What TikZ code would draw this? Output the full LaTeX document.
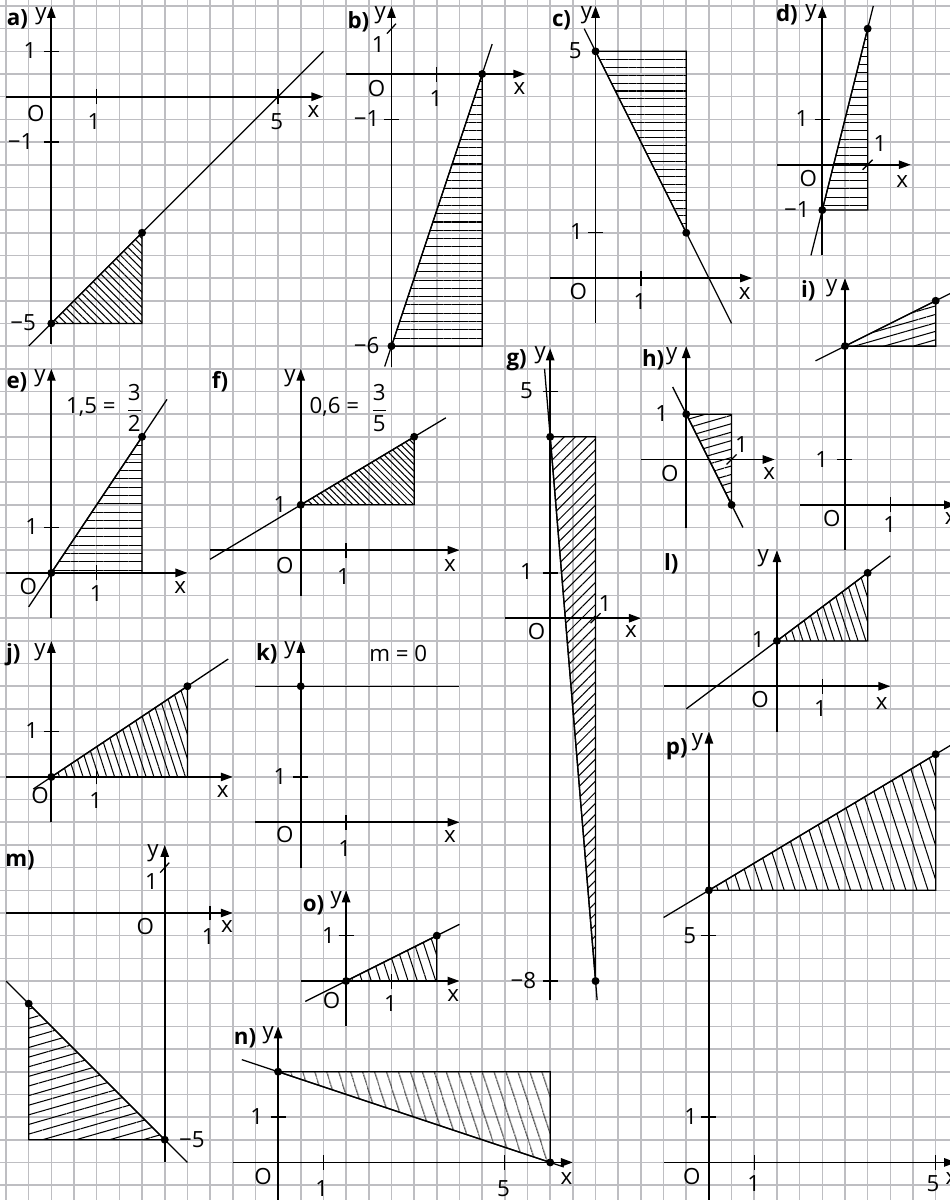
\documentclass[tikz,border=0pt]{standalone}
\usepackage{fontspec}
\setmainfont{Open Sans}
\usepackage{amsmath}
\usetikzlibrary{arrows.meta,patterns.meta}
\definecolor{gridgray}{RGB}{190,190,194}
\tikzset{
	gridline/.style={gridgray, line width=1pt},
	axis/.style={line width=1.1pt, -{Triangle[length=7.5pt,width=5.2pt]}},
	graph/.style={line width=0.8pt},
	tick/.style={line width=0.8pt},
	dot/.style={circle, fill=black, inner sep=0pt, minimum size=5pt},
	lbl/.style={inner sep=0pt, font=\fontsize{14}{16}\selectfont},
	plbl/.style={inner sep=0pt, font=\fontsize{14}{16}\selectfont\bfseries},
	hatch/.style 2 args={pattern={Lines[angle=#1,distance=#2,line width=0.65pt]}},
}
\begin{document}
\begin{tikzpicture}
		\useasboundingbox (-0.1323,-26.329) rectangle (20.794,0.1323);
		\fill[white] (-0.1323,-26.329) rectangle (20.794,0.1323);
		\draw[gridline] (-0.5,-27) grid[step=0.5] (21,0.5);
		\begin{scope}[shift={(1,-2)}]
			\draw[hatch={-45}{3.4pt}, graph] (0,-5) -- (2,-3) -- (2,-5) -- cycle;
			\draw[axis] (-1,0) -- (6,0);
			\draw[axis] (0,-5.45) -- (0,2);
			\draw[graph] (-0.5,-5.5) -- (6,1);
			\foreach \t in {1,5} \draw[tick] (\t,-0.165) -- (\t,0.165);
			\foreach \t in {1,-1} \draw[tick] (-0.165,\t) -- (0.165,\t);
			\node[dot] (a-p) at (0,-5) {};
			\node[dot] (a-q) at (2,-3) {};
			\node[plbl] (a-name) at (-0.75,1.7) {a)};
			\node[lbl] (a-y) at (-0.23,1.77) {y};
			\node[lbl] (a-x) at (5.78,-0.33) {x};
			\node[lbl] (a-O) at (-0.34,-0.37) {O};
			\node[lbl] (a-x1) at (0.94,-0.55) {1};
			\node[lbl] (a-x5) at (4.97,-0.55) {5};
			\node[lbl] (a-y1) at (-0.47,1.01) {1};
			\node[lbl] (a-ym1) at (-0.68,-0.99) {−1};
			\node[lbl] (a-ym5) at (-0.62,-4.98) {−5};
		\end{scope}
		\begin{scope}[shift={(8.5,-1.5)}]
			\draw[hatch={0}{5.2pt}, graph] (0,-6) -- (2,0) -- (2,-6) -- cycle;
			\draw[axis] (-1,0) -- (2.95,0);
			\draw[axis] (0,-6.45) -- (0,1.5);
			\draw[graph] (-0.15,-6.45) -- (2.22,0.66);
			\draw[tick] (1,-0.165) -- (1,0.165);
			\draw[tick] (-0.165,-1) -- (0.165,-1);
			\draw[tick] (-0.1,0.89) -- (0.1,1.11);
			\node[dot] (b-p) at (0,-6) {};
			\node[dot] (b-q) at (2,0) {};
			\node[plbl] (b-name) at (-0.73,1.15) {b)};
			\node[lbl] (b-y) at (-0.25,1.3) {y};
			\node[lbl] (b-x) at (2.82,-0.32) {x};
			\node[lbl] (b-O) at (-0.33,-0.32) {O};
			\node[lbl] (b-x1) at (0.98,-0.54) {1};
			\node[lbl] (b-y1) at (-0.29,0.64) {1};
			\node[lbl] (b-ym1) at (-0.55,-0.98) {−1};
			\node[lbl] (b-ym6) at (-0.55,-5.98) {−6};
		\end{scope}
		\begin{scope}[shift={(13,-6)}]
			\draw[hatch={0}{4.9pt}, graph] (0,5) -- (2,5) -- (2,1) -- cycle;
			\draw[axis] (-1,0) -- (3.45,0);
			\draw[axis] (0,-1) -- (0,6);
			\draw[graph] (-0.25,5.5) -- (3,-1);
			\draw[tick] (1,-0.165) -- (1,0.165);
			\draw[tick] (-0.165,1) -- (0.165,1);
			\node[dot] (c-p) at (0,5) {};
			\node[dot] (c-q) at (2,1) {};
			\node[plbl] (c-name) at (-0.75,5.69) {c)};
			\node[lbl] (c-y) at (-0.2,5.8) {y};
			\node[lbl] (c-x) at (3.29,-0.34) {x};
			\node[lbl] (c-O) at (-0.38,-0.3) {O};
			\node[lbl] (c-x1) at (0.98,-0.52) {1};
			\node[lbl] (c-y1) at (-0.42,1.02) {1};
			\node[lbl] (c-y5) at (-0.45,5.01) {5};
		\end{scope}
		\begin{scope}[shift={(18,-3.5)}]
			\draw[hatch={0}{5.2pt}, graph] (0,-1) -- (1,3) -- (1,-1) -- cycle;
			\draw[axis] (-1,0) -- (1.95,0);
			\draw[axis] (0,-2) -- (0,3.5);
			\draw[graph] (-0.25,-2) -- (1.125,3.5);
			\draw[tick] (-0.165,1) -- (0.165,1);
			\draw[tick] (0.89,-0.11) -- (1.11,0.11);
			\node[dot] (d-p) at (0,-1) {};
			\node[dot] (d-q) at (1,3) {};
			\node[plbl] (d-name) at (-0.78,3.31) {d)};
			\node[lbl] (d-y) at (-0.25,3.35) {y};
			\node[lbl] (d-x) at (1.76,-0.37) {x};
			\node[lbl] (d-O) at (-0.31,-0.3) {O};
			\node[lbl] (d-x1) at (1.27,0.47) {1};
			\node[lbl] (d-y1) at (-0.45,1.02) {1};
			\node[lbl] (d-ym1) at (-0.56,-0.98) {−1};
		\end{scope}
		\begin{scope}[shift={(1,-12.5)}]
			\draw[hatch={0}{5.2pt}, graph] (0,0) -- (2,3) -- (2,0) -- cycle;
			\draw[axis] (-1,0) -- (3,0);
			\draw[axis] (0,-1) -- (0,4.5);
			\draw[graph] (-0.5,-0.75) -- (2.55,3.825);
			\draw[tick] (1,-0.165) -- (1,0.165);
			\draw[tick] (-0.165,1) -- (0.165,1);
			\node[dot] (e-p) at (0,0) {};
			\node[dot] (e-q) at (2,3) {};
			\node[plbl] (e-name) at (-0.76,4.21) {e)};
			\node[lbl] (e-y) at (-0.25,4.3) {y};
			\node[lbl] (e-x) at (2.84,-0.33) {x};
			\node[lbl] (e-O) at (-0.51,-0.29) {O};
			\node[lbl] (e-x1) at (0.99,-0.45) {1};
			\node[lbl] (e-y1) at (-0.43,1.02) {1};
			\node[lbl] (e-eq) at (0.87,3.66) {1,5 =};
			\node[lbl] (e-frac) at (1.83,3.63) {$\dfrac{\text{3}}{\text{2}}$};
		\end{scope}
		\begin{scope}[shift={(6.5,-12)}]
			\draw[hatch={-45}{3pt}, graph] (0,1) -- (2.5,2.5) -- (2.5,1) -- cycle;
			\draw[axis] (-2,0) -- (3.5,0);
			\draw[axis] (0,-1) -- (0,4);
			\draw[graph] (-2,-0.2) -- (3.2,2.92);
			\draw[tick] (1,-0.165) -- (1,0.165);
			\node[dot] (f-p) at (0,1) {};
			\node[dot] (f-q) at (2.5,2.5) {};
			\node[plbl] (f-name) at (-1.78,3.72) {f)};
			\node[lbl] (f-y) at (-0.24,3.8) {y};
			\node[lbl] (f-x) at (3.29,-0.33) {x};
			\node[lbl] (f-O) at (-0.35,-0.33) {O};
			\node[lbl] (f-x1) at (0.94,-0.58) {1};
			\node[lbl] (f-y1) at (-0.46,1.01) {1};
			\node[lbl] (f-eq) at (0.74,3.16) {0,6 =};
			\node[lbl] (f-frac) at (1.73,3.13) {$\dfrac{\text{3}}{\text{5}}$};
		\end{scope}
		\begin{scope}[shift={(12,-13.5)}]
			\draw[hatch={45}{4.9pt}, graph] (0,4) -- (1,4) -- (1,-8) -- cycle;
			\draw[axis] (-1,0) -- (2,0);
			\draw[axis] (0,-8.42) -- (0,5.95);
			\draw[graph] (-0.125,5.5) -- (1.035,-8.42);
			\foreach \t in {5,1,-8} \draw[tick] (-0.165,\t) -- (0.165,\t);
			\draw[tick] (0.89,-0.11) -- (1.11,0.11);
			\node[dot] (g-p) at (0,4) {};
			\node[dot] (g-q) at (1,-8) {};
			\node[plbl] (g-name) at (-0.74,5.69) {g)};
			\node[lbl] (g-y) at (-0.22,5.8) {y};
			\node[lbl] (g-x) at (1.78,-0.3) {x};
			\node[lbl] (g-O) at (-0.3,-0.3) {O};
			\node[lbl] (g-x1) at (1.21,0.33) {1};
			\node[lbl] (g-y1) at (-0.52,1.02) {1};
			\node[lbl] (g-y5) at (-0.52,5.01) {5};
			\node[lbl] (g-ym8) at (-0.59,-7.99) {−8};
		\end{scope}
		\begin{scope}[shift={(15,-10)}]
			\draw[hatch={16}{5.1pt}, graph] (0,1) -- (1,1) -- (1,-1) -- cycle;
			\draw[axis] (-1,0) -- (1.95,0);
			\draw[axis] (0,-1.5) -- (0,2.5);
			\draw[graph] (-0.3,1.6) -- (1.25,-1.5);
			\draw[tick] (0.89,-0.11) -- (1.11,0.11);
			\node[dot] (h-p) at (0,1) {};
			\node[dot] (h-q) at (1,-1) {};
			\node[plbl] (h-name) at (-0.73,2.19) {h)};
			\node[lbl] (h-y) at (-0.32,2.27) {y};
			\node[lbl] (h-x) at (1.83,-0.3) {x};
			\node[lbl] (h-O) at (-0.36,-0.3) {O};
			\node[lbl] (h-x1) at (1.22,0.32) {1};
			\node[lbl] (h-y1) at (-0.54,1.02) {1};
		\end{scope}
		\begin{scope}[shift={(18.5,-11)}]
			\draw[hatch={16}{5.1pt}, graph] (0,3.5) -- (2,4.5) -- (2,3.5) -- cycle;
			\draw[axis] (-1,0) -- (2.45,0);
			\draw[axis] (0,-1) -- (0,5);
			\draw[graph] (-0.65,3.175) -- (2.4,4.7);
			\draw[tick] (1,-0.165) -- (1,0.165);
			\draw[tick] (-0.165,1) -- (0.165,1);
			\node[dot] (i-p) at (0,3.5) {};
			\node[dot] (i-q) at (2,4.5) {};
			\node[plbl] (i-name) at (-0.81,4.73) {i)};
			\node[lbl] (i-y) at (-0.29,4.78) {y};
			\node[lbl] (i-x) at (2.33,-0.3) {x};
			\node[lbl] (i-O) at (-0.29,-0.3) {O};
			\node[lbl] (i-x1) at (0.99,-0.44) {1};
			\node[lbl] (i-y1) at (-0.51,1.01) {1};
		\end{scope}
		\begin{scope}[shift={(1,-17)}]
			\draw[hatch={-72}{4.7pt}, graph] (0,0) -- (3,2) -- (3,0) -- cycle;
			\draw[axis] (-1,0) -- (4,0);
			\draw[axis] (0,-1) -- (0,3);
			\draw[graph] (-0.4,-0.267) -- (3.9,2.6);
			\draw[tick] (1,-0.165) -- (1,0.165);
			\draw[tick] (-0.165,1) -- (0.165,1);
			\node[dot] (j-p) at (0,0) {};
			\node[dot] (j-q) at (3,2) {};
			\node[plbl] (j-name) at (-0.84,2.69) {j)};
			\node[lbl] (j-y) at (-0.25,2.76) {y};
			\node[lbl] (j-x) at (3.78,-0.33) {x};
			\node[lbl] (j-O) at (-0.25,-0.4) {O};
			\node[lbl] (j-x1) at (0.98,-0.51) {1};
			\node[lbl] (j-y1) at (-0.43,1.02) {1};
		\end{scope}
		\begin{scope}[shift={(6.5,-18)}]
			\draw[axis] (-1,0) -- (3.5,0);
			\draw[axis] (0,-1) -- (0,4);
			\draw[graph] (-1,3) -- (3.5,3);
			\draw[tick] (1,-0.165) -- (1,0.165);
			\draw[tick] (-0.165,1) -- (0.165,1);
			\node[dot] (k-p) at (0,3) {};
			\node[plbl] (k-name) at (-0.75,3.72) {k)};
			\node[lbl] (k-y) at (-0.24,3.79) {y};
			\node[lbl] (k-x) at (3.29,-0.32) {x};
			\node[lbl] (k-O) at (-0.35,-0.28) {O};
			\node[lbl] (k-x1) at (0.97,-0.57) {1};
			\node[lbl] (k-y1) at (-0.46,1.01) {1};
			\node[lbl] (k-m) at (2.15,3.72) {m = 0};
		\end{scope}
		\begin{scope}[shift={(17,-15)}]
			\draw[hatch={-72}{4.7pt}, graph] (0,1) -- (2,2.5) -- (2,1) -- cycle;
			\draw[axis] (-2.5,0) -- (2.5,0);
			\draw[axis] (0,-1) -- (0,3);
			\draw[graph] (-2,-0.5) -- (2.5,2.875);
			\draw[tick] (1,-0.165) -- (1,0.165);
			\node[dot] (l-p) at (0,1) {};
			\node[dot] (l-q) at (2,2.5) {};
			\node[plbl] (l-name) at (-2.33,2.71) {l)};
			\node[lbl] (l-y) at (-0.3,2.82) {y};
			\node[lbl] (l-x) at (2.31,-0.38) {x};
			\node[lbl] (l-O) at (-0.37,-0.3) {O};
			\node[lbl] (l-x1) at (0.96,-0.49) {1};
			\node[lbl] (l-y1) at (-0.41,1.02) {1};
		\end{scope}
		\begin{scope}[shift={(3.5,-20)}]
			\draw[hatch={16}{5.8pt}, graph] (-3,-2) -- (-3,-5) -- (0,-5) -- cycle;
			\draw[axis] (-3.5,0) -- (1.5,0);
			\draw[axis] (0,-5.5) -- (0,1.5);
			\draw[graph] (-3.5,-1.5) -- (0.5,-5.5);
			\draw[tick] (1,-0.165) -- (1,0.165);
			\draw[tick] (-0.1,0.89) -- (0.1,1.11);
			\node[dot] (m-p) at (-3,-2) {};
			\node[dot] (m-q) at (0,-5) {};
			\node[plbl] (m-name) at (-3.19,1.17) {m)};
			\node[lbl] (m-y) at (-0.26,1.32) {y};
			\node[lbl] (m-x) at (1.37,-0.3) {x};
			\node[lbl] (m-O) at (-0.43,-0.3) {O};
			\node[lbl] (m-x1) at (0.96,-0.52) {1};
			\node[lbl] (m-y1) at (-0.29,0.69) {1};
			\node[lbl] (m-ym5) at (0.6,-4.99) {−5};
		\end{scope}
		\begin{scope}[shift={(6,-25.5)}]
			\draw[hatch={-72}{7.4pt}, graph] (0,2) -- (6,2) -- (6,0) -- cycle;
			\draw[axis] (-1,0) -- (6.5,0);
			\draw[axis] (0,-1) -- (0,3);
			\draw[graph] (-0.8,2.267) -- (6.3,-0.1);
			\foreach \t in {1,5} \draw[tick] (\t,-0.165) -- (\t,0.165);
			\draw[tick] (-0.165,1) -- (0.165,1);
			\node[dot] (n-p) at (0,2) {};
			\node[dot] (n-q) at (6,0) {};
			\node[plbl] (n-name) at (-0.73,2.74) {n)};
			\node[lbl] (n-y) at (-0.22,2.81) {y};
			\node[lbl] (n-x) at (6.36,-0.35) {x};
			\node[lbl] (n-O) at (-0.33,-0.32) {O};
			\node[lbl] (n-x1) at (0.96,-0.57) {1};
			\node[lbl] (n-x5) at (4.97,-0.57) {5};
			\node[lbl] (n-y1) at (-0.47,1.01) {1};
		\end{scope}
		\begin{scope}[shift={(7.5,-21.5)}]
			\draw[hatch={-72}{5.5pt}, graph] (0,0) -- (2,1) -- (2,0) -- cycle;
			\draw[axis] (-1,0) -- (2.5,0);
			\draw[axis] (0,-1) -- (0,2);
			\draw[graph] (-0.9,-0.45) -- (2.5,1.25);
			\draw[tick] (1,-0.165) -- (1,0.165);
			\draw[tick] (-0.165,1) -- (0.165,1);
			\node[dot] (o-p) at (0,0) {};
			\node[dot] (o-q) at (2,1) {};
			\node[plbl] (o-name) at (-0.72,1.68) {o)};
			\node[lbl] (o-y) at (-0.22,1.79) {y};
			\node[lbl] (o-x) at (2.36,-0.31) {x};
			\node[lbl] (o-O) at (-0.32,-0.42) {O};
			\node[lbl] (o-x1) at (0.98,-0.49) {1};
			\node[lbl] (o-y1) at (-0.39,1.01) {1};
		\end{scope}
		\begin{scope}[shift={(15.5,-25.5)}]
			\draw[hatch={-72}{6.6pt}, graph] (0,6) -- (5,9) -- (5,6) -- cycle;
			\draw[axis] (-1,0) -- (5.45,0);
			\draw[axis] (0,-1) -- (0,9.5);
			\draw[graph] (-1,5.4) -- (5.5,9.3);
			\foreach \t in {1,5} \draw[tick] (\t,-0.165) -- (\t,0.165);
			\foreach \t in {1,5} \draw[tick] (-0.165,\t) -- (0.165,\t);
			\node[dot] (p-p) at (0,6) {};
			\node[dot] (p-q) at (5,9) {};
			\node[plbl] (p-name) at (-0.71,9.12) {p)};
			\node[lbl] (p-y) at (-0.25,9.27) {y};
			\node[lbl] (p-x) at (5.35,-0.35) {x};
			\node[lbl] (p-O) at (-0.38,-0.32) {O};
			\node[lbl] (p-x1) at (0.99,-0.46) {1};
			\node[lbl] (p-x5) at (4.94,-0.46) {5};
			\node[lbl] (p-y1) at (-0.4,1.01) {1};
			\node[lbl] (p-y5) at (-0.42,5.01) {5};
		\end{scope}
\end{tikzpicture}
\end{document}
